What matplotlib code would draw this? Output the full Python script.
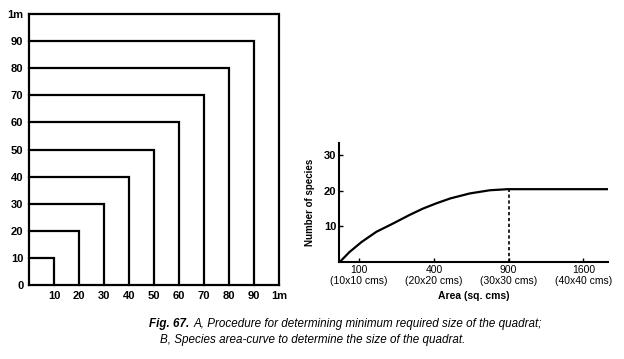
import numpy as np
import matplotlib.pyplot as plt

plt.rcParams['font.family'] = ['Liberation Sans', 'DejaVu Sans']

# panel A: nested quadrats (side lengths, cm)
sides = [10, 20, 30, 40, 50, 60, 70, 80, 90, 100]
side_labels = ['10', '20', '30', '40', '50', '60', '70', '80', '90', '1m']

# panel B: species-area curve (x = quadrat side index, 1 -> 10x10 cm)
area_pos = [0.74, 0.87, 1.03, 1.23, 1.45, 1.67, 1.85, 2.03, 2.22, 2.48, 2.75, 2.99, 4.33]
species = [0, 2.8, 5.6, 8.5, 10.8, 13.2, 15.0, 16.5, 17.9, 19.3, 20.2, 20.5, 20.5]
area_ticks = [1, 2, 3, 4]
area_labels = ['100\n(10x10 cms)', '400\n(20x20 cms)', '900\n(30x30 cms)', '1600\n(40x40 cms)']
species_ticks = [10, 20, 30]

fig = plt.figure(figsize=(6.24, 3.59), dpi=100)

# ---- panel A
ax = fig.add_axes([29 / 624, 74 / 359, 250 / 624, 271 / 359])
ax.set_xlim(0, 100)
ax.set_ylim(0, 100)
lw = 1.6
for s in sides:
    ax.plot([0, s, s], [s, s, 0], color='black', lw=lw, clip_on=False,
            solid_joinstyle='miter')
ax.plot([0, 0], [0, 100], color='black', lw=lw, clip_on=False)
ax.plot([0, 100], [0, 0], color='black', lw=lw, clip_on=False)
for sp in ax.spines.values():
    sp.set_visible(False)
ax.set_xticks(sides)
ax.set_xticklabels(side_labels, fontsize=8, fontweight='bold')
ax.set_yticks([0] + sides)
ax.set_yticklabels(['0'] + side_labels, fontsize=8, fontweight='bold')
ax.tick_params(length=0, pad=4)

# ---- panel B
bx = fig.add_axes([339 / 624, 97 / 359, 269 / 624, 119 / 359])
bx.set_xlim(0.73, 4.33)
bx.set_ylim(0, 33.5)
bx.plot(area_pos, species, color='black', lw=1.6)
bx.plot([3, 3], [0, species[-1]], color='black', lw=1.2, linestyle=(0, (2, 1.5)))
for k in ['top', 'right']:
    bx.spines[k].set_visible(False)
for k in ['left', 'bottom']:
    bx.spines[k].set_linewidth(1.5)
bx.set_xticks(area_ticks)
bx.set_xticklabels(area_labels, fontsize=7.5)
bx.set_yticks(species_ticks)
bx.set_yticklabels([str(t) for t in species_ticks], fontsize=8, fontweight='bold')
bx.tick_params(direction='in', length=3, width=1, pad=2)
bx.set_xlabel('Area (sq. cms)', fontsize=7.5, fontweight='bold', labelpad=3)
bx.set_ylabel('Number of species', fontsize=7, fontweight='bold', labelpad=6)

# caption
fig.text(149 / 624, 1 - 324 / 359, 'Fig. 67.', fontsize=8.4, fontweight='bold',
         style='italic', va='center', ha='left')
fig.text(194 / 624, 1 - 324 / 359,
         'A, Procedure for determining minimum required size of the quadrat;',
         fontsize=8.4, style='italic', va='center', ha='left')
fig.text(160 / 624, 1 - 340 / 359,
         'B, Species area-curve to determine the size of the quadrat.',
         fontsize=8.4, style='italic', va='center', ha='left')

fig.savefig('out.png', dpi=100)
